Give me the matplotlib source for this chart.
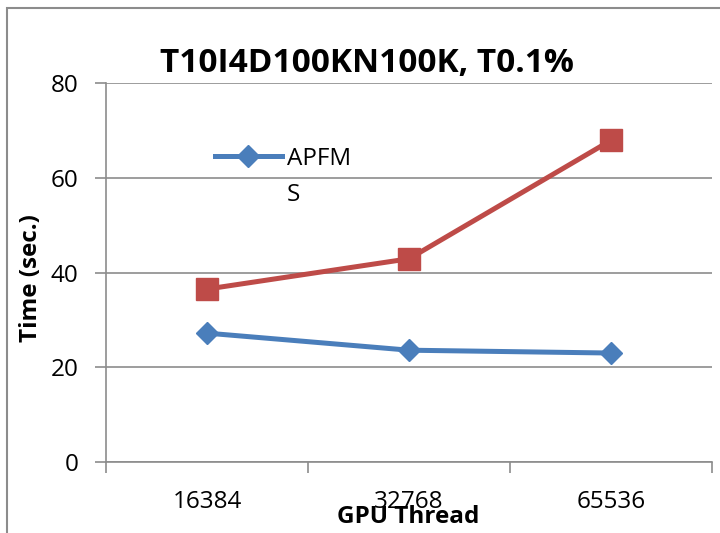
import matplotlib
matplotlib.use("Agg")
import matplotlib.pyplot as plt
from matplotlib.patches import Rectangle

categories = ["16384", "32768", "65536"]
apfm = [27.2, 23.6, 23.0]
other = [36.5, 42.9, 67.9]
title = "T10I4D100KN100K, T0.1%"
yticks = [0, 20, 40, 60, 80]

plt.rcParams['font.family'] = ['Open Sans', 'DejaVu Sans']

W, H = 720, 533
fig = plt.figure(figsize=(W / 100, H / 100), dpi=100)
fig.patch.set_facecolor("white")


def fx(px):
    return px / W


def fy(py):
    return 1 - py / H


# outer chart frame (extends past right and bottom edges)
fig.add_artist(Rectangle((fx(7), fy(560)), 2, (560 - 8) / H, transform=fig.transFigure,
                         fill=False, edgecolor="#8c8c8c", linewidth=1.5))

ax = fig.add_axes([fx(106), fy(462), (712 - 106) / W, (462 - 83) / H])
x = range(len(categories))
blue = "#4a7ebb"
red = "#be4b48"
ax.plot(x, other, color=red, lw=3.6, marker="s", ms=15.5, mfc=red, mec=red, zorder=3)
l1, = ax.plot(x, apfm, color=blue, lw=3.6, marker="D", ms=11.5, mfc=blue, mec=blue, zorder=4)

ax.set_xlim(-0.5, 2.5)
ax.set_ylim(0, 80)
ax.set_yticks(yticks)
ax.set_yticklabels([str(v) for v in yticks], fontsize=17.5)
ax.set_xticks([-0.5, 0.5, 1.5, 2.5])
ax.set_xticklabels([])
ax.set_xticks(list(x), minor=True)
ax.set_xticklabels(categories, minor=True, fontsize=17.5)
ax.tick_params(axis="x", which="minor", length=0, pad=20)
ax.tick_params(axis="x", which="major", length=8, color="#8c8c8c", width=1.2, direction="out")
ax.tick_params(axis="y", length=8, color="#8c8c8c", width=1.2, direction="out", pad=12)
ax.grid(axis="y", color="#8c8c8c", lw=1.2)
ax.set_axisbelow(True)
for s in ["top", "right"]:
    ax.spines[s].set_visible(False)
for s in ["left", "bottom"]:
    ax.spines[s].set_color("#8c8c8c")
    ax.spines[s].set_linewidth(1.2)

fig.text(fx(367), fy(72), title, fontsize=24, fontweight="bold", ha="center", va="baseline")
fig.text(fx(408), fy(523), "GPU Thread", fontsize=17.5, fontweight="bold", ha="center", va="baseline")
fig.text(fx(31), fy(278), "Time (sec.)", fontsize=17.5, fontweight="bold", ha="center",
         va="center", rotation=90)

leg = ax.legend([l1], ["APFM"], loc="upper left",
                bbox_to_anchor=((215 - 106) / 606, (462 - 147) / 379),
                frameon=False, fontsize=17.5, handlelength=2.75, handletextpad=0.2,
                borderaxespad=0, borderpad=0)
fig.text(fx(287), fy(195), "S", fontsize=17.5, ha="left", va="center")

fig.savefig("out.png", dpi=100)
